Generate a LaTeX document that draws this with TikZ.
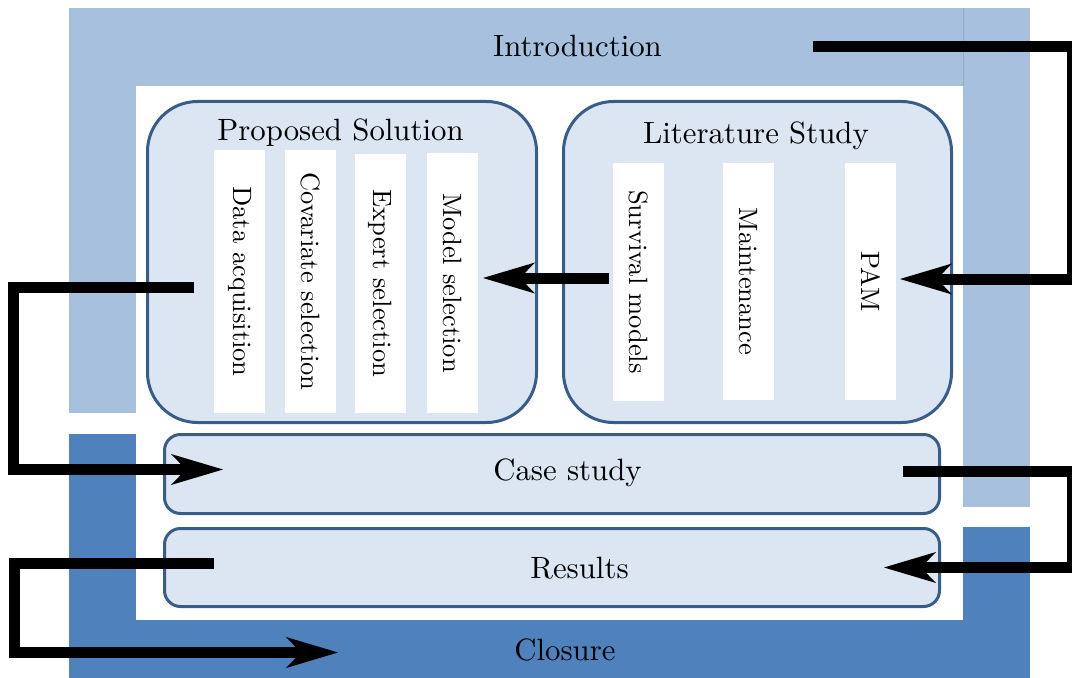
\documentclass[tikz,border=0pt]{standalone}
\usepackage{fontspec}
% The 10pt design of Latin Modern, scaled up, for all text
\setmainfont{lmroman10-regular.otf}
\usetikzlibrary{arrows.meta}

\definecolor{introblue}{RGB}{167,192,222}
\definecolor{closeblue}{RGB}{79,129,189}
\definecolor{boxfill}{RGB}{220,230,242}
\definecolor{boxline}{RGB}{56,93,138}
\definecolor{seamblue}{RGB}{140,172,212}

\begin{document}
\begin{tikzpicture}[x=1bp, y=-1bp,
  every node/.style={inner sep=0pt, outer sep=0pt},
  bigfont/.style={font=\fontsize{30.8bp}{36bp}\selectfont},
  stripfont/.style={font=\fontsize{26.5bp}{31bp}\selectfont},
  phase/.style={draw=boxline, line width=3bp, fill=boxfill,
    rounded corners=#1, anchor=north west},
  stripbox/.style={fill=white, rotate=-90, minimum height=51bp, stripfont},
  title/.style={bigfont, anchor=base},
  flow/.style={line width=11bp, line join=miter,
    -{Stealth[length=52bp, width=31bp, inset=15bp, line width=0pt]}}
]
\useasboundingbox (0,0) rectangle (1072,678);

% Introduction frame (light blue)
\fill[introblue] (69,8) rectangle (963,86);
\fill[introblue] (69,86) rectangle (136,412.5);
\fill[introblue] (963,8) rectangle (1029.5,506.5);
\draw[seamblue, line width=0.8bp] (963,8) -- (963,86);

% Closure frame (dark blue)
\fill[closeblue] (69,433.5) rectangle (136,678);
\fill[closeblue] (136,619.5) rectangle (1029.5,678);
\fill[closeblue] (963,527) rectangle (1029.5,619.5);

\node[title] (intro) at (577.5,56.5) {Introduction};
\node[title] (closure) at (565,660.5) {Closure};

% Phase boxes
\node[phase=50bp, minimum width=389bp, minimum height=321bp] (prop) at (147.5,101.5) {};
\node[phase=50bp, minimum width=388bp, minimum height=321bp] (lit) at (563.5,101.5) {};
\node[phase=16bp, minimum width=775bp, minimum height=79bp] (case) at (164.5,434.5) {};
\node[phase=16bp, minimum width=775bp, minimum height=78bp] (res) at (164.5,528.5) {};

\node[title] (proptitle) at (340.5,140.5) {Proposed Solution};
\node[title] (littitle) at (756,144) {Literature Study};
\node[title] (casetitle) at (567.5,480.5) {Case study};
\node[title] (restitle) at (579.5,578.5) {Results};

% Steps of the proposed solution
\node[stripbox, minimum width=263bp] (data)  at (239.5,281.5) {Data acquisition};
\node[stripbox, minimum width=263bp] (cov)   at (310.5,281.5) {Covariate selection};
\node[stripbox, minimum width=259bp] (exp)   at (380.5,283.5) {Expert selection};
\node[stripbox, minimum width=260bp] (model) at (452.5,283) {Model selection};

% Topics of the literature study
\node[stripbox, minimum width=238bp] (surv)  at (638.5,282) {Survival models};
\node[stripbox, minimum width=237bp] (maint) at (748.5,281.5) {Maintenance};
\node[stripbox, minimum width=237bp] (pam)   at (870.5,281.5) {PAM};

% Route of the chapters
\coordinate (introout) at (813,47);
\coordinate (introturnA) at (1072.5,47);
\coordinate (introturnB) at (1072.5,279);
\coordinate (pamin) at (900,279);
\draw[flow] (introout) -- (introturnA) -- (introturnB) -- (pamin);

\coordinate (survout) at (609,278);
\coordinate (modelin) at (483,278);
\draw[flow] (survout) -- (modelin);

\coordinate (dataout) at (194,287.5);
\coordinate (dataturnA) at (13.5,287.5);
\coordinate (dataturnB) at (13.5,469.5);
\coordinate (casein) at (223,469.5);
\draw[flow] (dataout) -- (dataturnA) -- (dataturnB) -- (casein);

\coordinate (caseout) at (903,471.5);
\coordinate (caseturnA) at (1072.5,471.5);
\coordinate (caseturnB) at (1072.5,567.5);
\coordinate (resin) at (884,567.5);
\draw[flow] (caseout) -- (caseturnA) -- (caseturnB) -- (resin);

\coordinate (resout) at (214,563.5);
\coordinate (resturnA) at (14,563.5);
\coordinate (resturnB) at (14,652.5);
\coordinate (closein) at (338,652.5);
\draw[flow] (resout) -- (resturnA) -- (resturnB) -- (closein);
\end{tikzpicture}
\end{document}
